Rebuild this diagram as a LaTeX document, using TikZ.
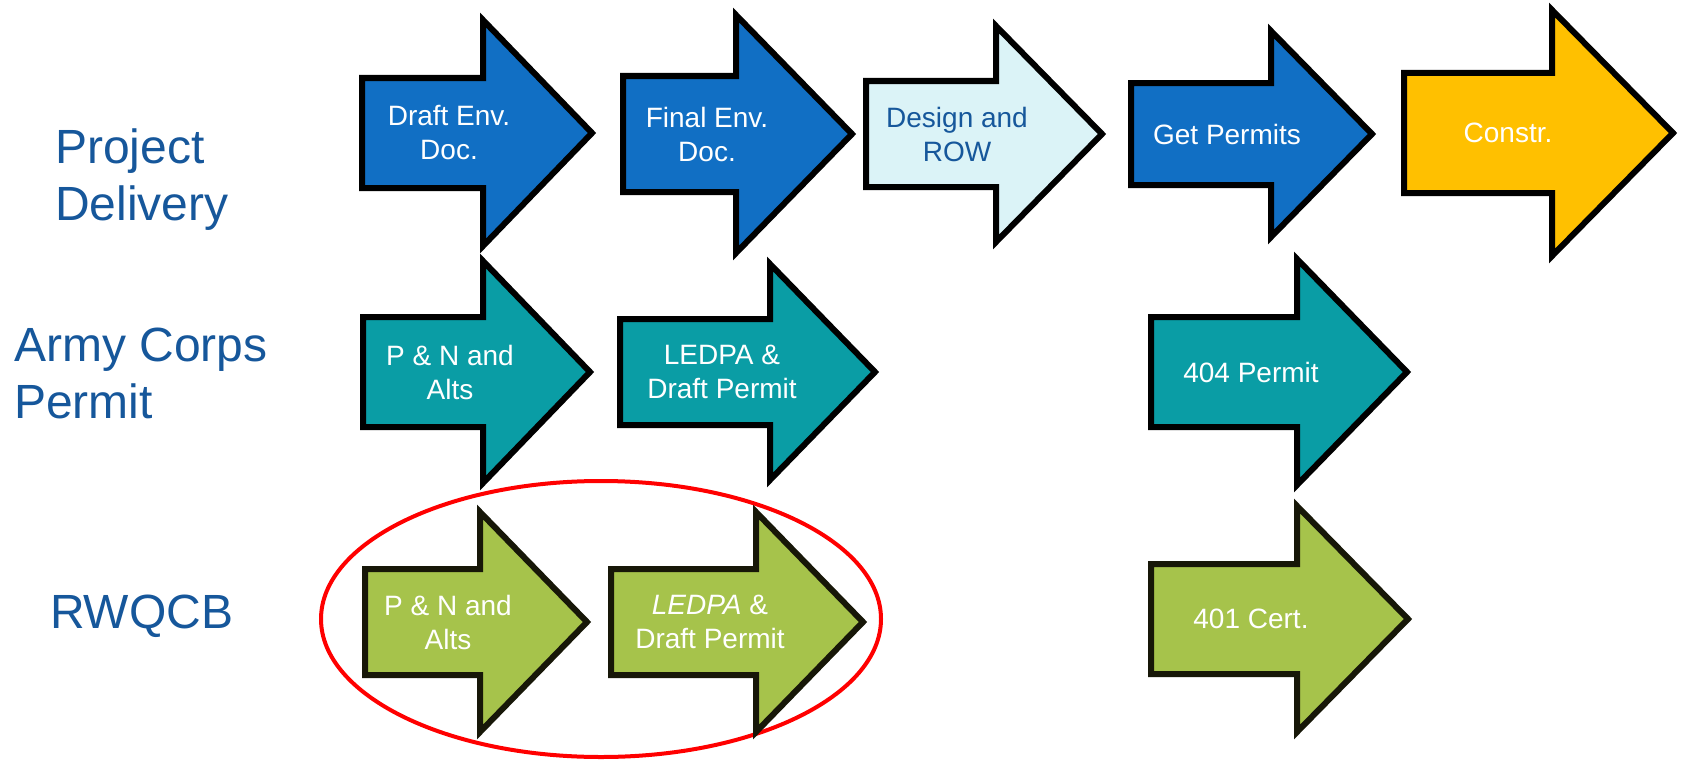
\documentclass[tikz,border=0pt]{standalone}
\usepackage{fontspec}
\setmainfont{Liberation Sans}
\definecolor{pdblue}{HTML}{116FC4}
\definecolor{palecyan}{HTML}{DBF3F7}
\definecolor{goldfill}{HTML}{FFC000}
\definecolor{tealfill}{HTML}{0A9DA5}
\definecolor{greenfill}{HTML}{A6C34B}
\definecolor{greenline}{HTML}{171708}
\definecolor{labelblue}{HTML}{16579B}
\tikzset{
  stage/.style={line width=6pt, line join=miter},
  stagetext/.style={align=center, inner sep=0pt, font=\fontsize{28}{34}\selectfont},
  rowlabel/.style={anchor=west, align=left, inner sep=0pt, text=labelblue, font=\fontsize{48}{57}\selectfont}
}
\begin{document}
\begin{tikzpicture}[x=1pt, y=-1pt]
    \useasboundingbox[fill=white] (0,0) rectangle (1681,760);
    \node[rowlabel] (delivery) at (55,179.5) {Project\\Delivery};
    \node[rowlabel] (corps) at (14,373) {Army Corps\\Permit};
    \node[rowlabel] (rwqcb) at (50,616) {RWQCB};
    \draw[red, line width=4pt] (601,619) ellipse [x radius=280, y radius=138];
    \foreach \nm/\lx/\hx/\tx/\ay/\bh/\hh/\fc/\lc/\tc/\cx/\txt in {
      draftdoc/362/483/592/133/55/113/pdblue/black/white/449/{Draft Env.\\Doc.},
      finaldoc/623/736/852/134/58/119/pdblue/black/white/707/{Final Env.\\Doc.},
      design/866/996/1102/134/53/108/palecyan/black/labelblue/957/{Design and\\ROW},
      getpermits/1131/1271/1372/134/51/103/pdblue/black/white/1227/{Get Permits},
      constr/1404/1552/1673/133/60/123/goldfill/black/white/1508/{Constr.},
      corpspn/363/483/590/372/55/111/tealfill/black/white/450/{P \& N and\\Alts},
      corpsledpa/620/770/875/372/53/108/tealfill/black/white/722/{LEDPA \&\\Draft Permit},
      corpspermit/1151/1297/1407/372/55/113/tealfill/black/white/1251/{404 Permit},
      boardpn/365/480/587/622/53/110/greenfill/greenline/white/448/{P \& N and\\Alts},
      boardledpa/611/756/863/622/53/110/greenfill/greenline/white/710/{\textit{LEDPA} \&\\Draft Permit},
      boardcert/1151/1297/1408/619/55/113/greenfill/greenline/white/1251/{401 Cert.}} {
      \draw[stage, fill=\fc, draw=\lc] (\lx,\ay-\bh) -- (\hx,\ay-\bh) -- (\hx,\ay-\hh) -- (\tx,\ay)
        -- (\hx,\ay+\hh) -- (\hx,\ay+\bh) -- (\lx,\ay+\bh) -- cycle;
      \node[stagetext, text=\tc] (\nm) at (\cx,\ay) {\txt};
    }
\end{tikzpicture}
\end{document}
